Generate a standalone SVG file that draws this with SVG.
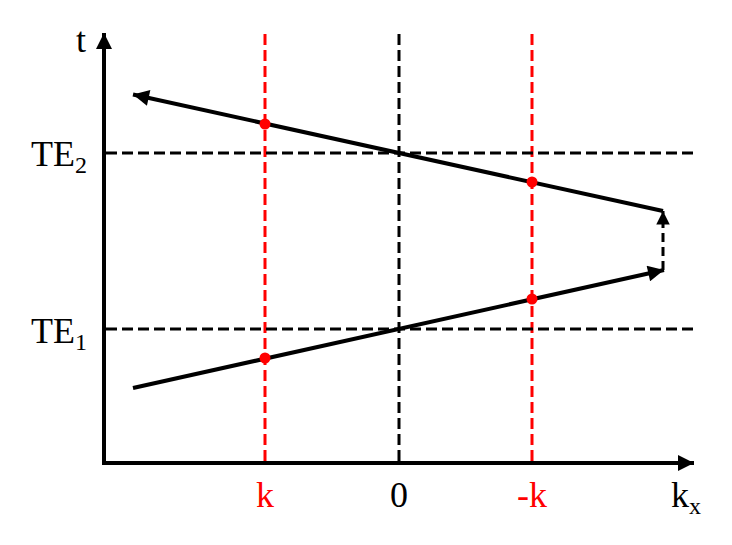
<svg xmlns="http://www.w3.org/2000/svg" width="732" height="545" viewBox="0 0 732 545">
<style>
.dash{fill:none;stroke-width:3;stroke-dasharray:11 5}
.blk{stroke:#000}
.red{stroke:#f00}
.solid{fill:none;stroke:#000;stroke-width:4}
.lbl{font-family:"Liberation Serif","Times New Roman",serif;font-size:36px}
.sub{font-size:24px}
.dot{fill:#f00}
</style>
<defs>
<marker id="ah" viewBox="0 0 10 10" refX="10" refY="5" markerWidth="5" markerHeight="4" markerUnits="strokeWidth" orient="auto">
<path d="M0,0 L10,5 L0,10 z" fill="#000"/>
</marker>
<marker id="ah2" viewBox="0 0 10 10" refX="10" refY="5" markerWidth="5" markerHeight="4.5" markerUnits="strokeWidth" orient="auto">
<path d="M0,0 L10,5 L0,10 z" fill="#000"/>
</marker>
</defs>
<g id="grid">
<line class="dash red" x1="265" y1="34" x2="265" y2="462"/>
<line class="dash blk" x1="399" y1="34" x2="399" y2="462"/>
<line class="dash red" x1="532" y1="34" x2="532" y2="462"/>
<line class="dash blk" x1="106" y1="153" x2="695" y2="153"/>
<line class="dash blk" x1="106" y1="329" x2="695" y2="329"/>
</g>
<g id="axes">
<line class="solid" x1="104" y1="465" x2="104" y2="33" marker-end="url(#ah)"/>
<line class="solid" x1="102" y1="463" x2="694" y2="463" marker-end="url(#ah)"/>
</g>
<g id="connectors">
<line class="solid" x1="133" y1="388" x2="664" y2="270" marker-end="url(#ah)"/>
<line x1="663" y1="270" x2="663" y2="211" stroke="#000" stroke-width="3" stroke-dasharray="9 5" marker-end="url(#ah2)"/>
<line class="solid" x1="663" y1="211" x2="133" y2="94.5" marker-end="url(#ah)"/>
</g>
<g id="dots">
<circle class="dot" cx="265" cy="124" r="5.5"/>
<circle class="dot" cx="532" cy="182" r="5.5"/>
<circle class="dot" cx="532" cy="299" r="5.5"/>
<circle class="dot" cx="265" cy="358" r="5.5"/>
</g>
<g id="labels">
<text class="lbl" x="76" y="52">t</text>
<text class="lbl" x="31" y="166">TE<tspan class="sub" dy="7">2</tspan></text>
<text class="lbl" x="31" y="343">TE<tspan class="sub" dy="7">1</tspan></text>
<text class="lbl" x="265" y="507" text-anchor="middle" fill="#f00">k</text>
<text class="lbl" x="399" y="507" text-anchor="middle">0</text>
<text class="lbl" x="532" y="507" text-anchor="middle" fill="#f00">-k</text>
<text class="lbl" x="671" y="507">k<tspan class="sub" dy="7">x</tspan></text>
</g>
</svg>
